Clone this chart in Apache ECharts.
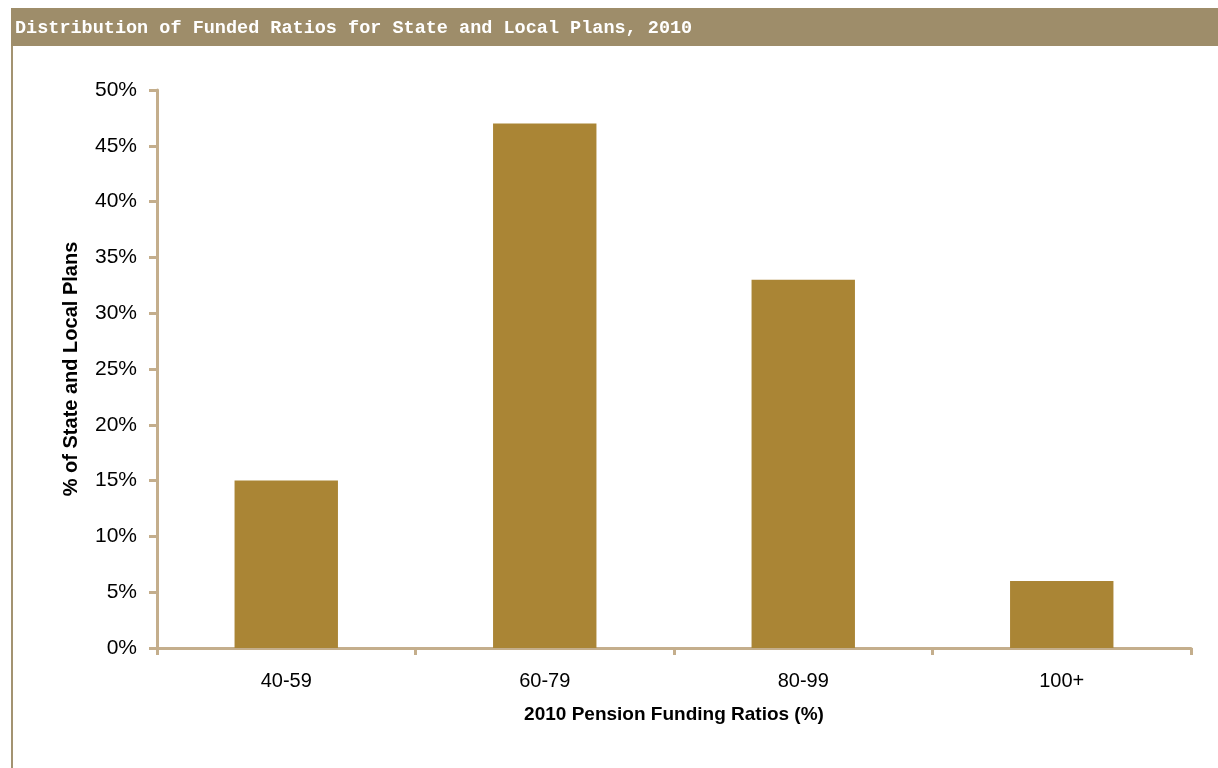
<!DOCTYPE html>
<html>
<head>
<meta charset="utf-8">
<script src="https://cdn.jsdelivr.net/npm/echarts@6/dist/echarts.min.js"></script>
<style>
html,body{margin:0;padding:0;background:#fff;}
#c{width:1218px;height:768px;}
</style>
</head>
<body>
<div id="c"></div>
<script>
var titleText = 'Distribution of Funded Ratios for State and Local Plans, 2010';
var categories = ['40-59', '60-79', '80-99', '100+'];
var values = [15, 47, 33, 6];
var yTicks = [0, 5, 10, 15, 20, 25, 30, 35, 40, 45, 50];
var xName = '2010 Pension Funding Ratios (%)';
var yName = '% of State and Local Plans';

var axisColor = '#c4ae8c';
var chart = echarts.init(document.getElementById('c'));
chart.setOption({
  animation: false,
  backgroundColor: '#ffffff',
  textStyle: { fontFamily: 'Liberation Sans, Arial, sans-serif' },
  graphic: [
    { type: 'rect', left: 11, top: 8, shape: { width: 1207, height: 38 }, style: { fill: '#9e8d6a' }, silent: true },
    { type: 'rect', left: 11, top: 46, shape: { width: 2, height: 722 }, style: { fill: '#a39371' }, silent: true },
    { type: 'text', left: 15, top: 19, style: { text: titleText, fill: '#ffffff', font: 'bold 18.5px "Liberation Mono", "Courier New", monospace' }, silent: true }
  ],
  grid: { left: 157, right: 27, top: 90, bottom: 120, containLabel: false },
  xAxis: {
    type: 'category',
    data: categories,
    boundaryGap: true,
    name: xName,
    nameLocation: 'middle',
    nameGap: 57,
    nameTextStyle: { fontSize: 19, fontWeight: 'bold', color: '#000' },
    axisLine: { show: true, lineStyle: { color: axisColor, width: 3 } },
    axisTick: { show: true, alignWithLabel: false, length: 7, lineStyle: { color: axisColor, width: 3 } },
    axisLabel: { fontSize: 20, color: '#000', margin: 23 },
    splitLine: { show: false }
  },
  yAxis: {
    type: 'value',
    min: yTicks[0],
    max: yTicks[yTicks.length - 1],
    interval: 5,
    name: yName,
    nameLocation: 'middle',
    nameGap: 76,
    nameTextStyle: { fontSize: 20, fontWeight: 'bold', color: '#000' },
    axisLine: { show: true, lineStyle: { color: axisColor, width: 3 } },
    axisTick: { show: true, length: 8, lineStyle: { color: axisColor, width: 3 } },
    axisLabel: { fontSize: 21, color: '#000', margin: 20, formatter: '{value}%' },
    splitLine: { show: false }
  },
  series: [{
    type: 'bar',
    data: values,
    barWidth: '40%',
    itemStyle: { color: '#aa8535' },
    z: 1
  }]
});
</script>
</body>
</html>
